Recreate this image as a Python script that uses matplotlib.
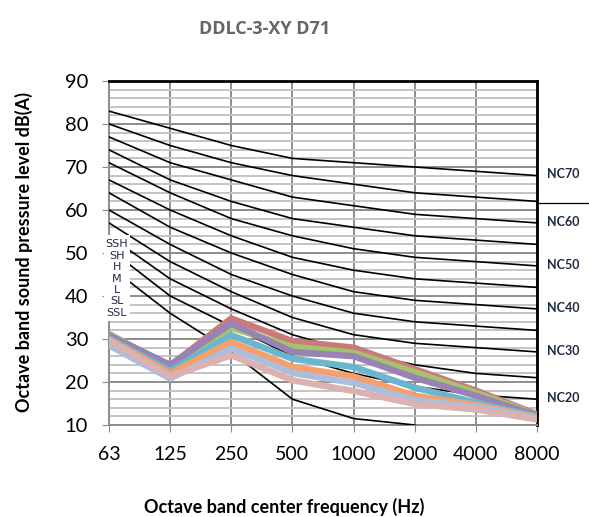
"""
DDLC-3-XY D71 噪声曲线图（NC曲线 + 各档位倍频程声压级）
"""
import numpy as np
import matplotlib.pyplot as plt
from matplotlib.patches import Rectangle

plt.rcParams['font.family'] = ['Lato', 'DejaVu Sans']

# 倍频程中心频率
freqs = ['63', '125', '250', '500', '1000', '2000', '4000', '8000']

# NC曲线（从低到高）
nc15 = [47, 36, 27, 16, 11.5, 10, np.nan, np.nan]
nc20 = [51, 40, 33, 26, 22, 19, 17, 16]
nc25 = [54, 44, 37, 31, 27, 24, 22, 21]
nc30 = [57, 48, 41, 35, 31, 29, 28, 27]
nc35 = [60, 52, 45, 40, 36, 34, 33, 32]
nc40 = [64, 56, 50, 45, 41, 39, 38, 37]
nc45 = [67, 60, 54, 49, 46, 44, 43, 42]
nc50 = [71, 64, 58, 54, 51, 49, 48, 47]
nc55 = [74, 67, 62, 58, 56, 54, 53, 52]
nc60 = [77, 71, 67, 63, 61, 59, 58, 57]
nc65 = [80, 75, 71, 68, 66, 64, 63, 62]
nc70 = [83, 79, 75, 72, 71, 70, 69, 68]
nc_curves = [nc15, nc20, nc25, nc30, nc35, nc40, nc45, nc50, nc55, nc60, nc65, nc70]

# 右侧标注的NC曲线
nc_label_names = ['NC20', 'NC30', 'NC40', 'NC50', 'NC60', 'NC70']
nc_label_curves = [nc20, nc30, nc40, nc50, nc60, nc70]
nc_divider = 61.6  # 右侧伸出的分隔线

# 各档位声压级
speed_names = ['SSH', 'SH', 'H', 'M', 'L', 'SL', 'SSL']
ssh = [31.0, 23.8, 34.8, 29.5, 28.0, 23.0, 18.0, 12.5]
sh = [31.2, 23.5, 32.6, 28.2, 26.8, 22.3, 17.5, 12.3]
h = [30.8, 24.0, 33.6, 27.0, 26.0, 21.0, 16.8, 12.2]
m = [30.2, 22.6, 30.9, 25.4, 23.5, 18.7, 15.2, 12.0]
l = [29.9, 22.0, 29.3, 23.5, 21.3, 16.8, 14.7, 11.8]
sl = [28.5, 20.8, 27.8, 22.1, 19.8, 15.8, 14.2, 11.6]
ssl = [29.7, 21.3, 26.2, 20.4, 17.9, 14.9, 13.6, 11.3]
speed_values = [ssh, sh, h, m, l, sl, ssl]
speed_colors = ['#C97B7B', '#A4C36B', '#9983B4', '#6AB6CF', '#F5A06C', '#ABBEDC', '#DCB1B2']


def main():
    fig = plt.figure(figsize=(5.89, 5.17), dpi=100)
    ax = fig.add_axes([109 / 589, 1 - 425 / 517, 428 / 589, 344 / 517])

    x = np.arange(len(freqs))

    # 网格
    ax.set_xlim(0, len(freqs) - 1)
    ax.set_ylim(10, 90)
    ax.set_xticks(x)
    ax.set_xticklabels(freqs, fontsize=14)
    ax.set_yticks(range(10, 91, 10))
    ax.set_yticks(range(10, 91, 2), minor=True)
    ax.tick_params(axis='y', which='major', labelsize=14.5, length=5, color='#8c8c8c', pad=10)
    ax.tick_params(axis='y', which='minor', length=0)
    ax.tick_params(axis='x', length=5, color='#8c8c8c', pad=10)
    ax.grid(which='minor', axis='y', color='#c4c4c4', linewidth=1.4)
    ax.grid(which='major', axis='y', color='#8c8c8c', linewidth=1.4)
    ax.grid(which='major', axis='x', color='#8c8c8c', linewidth=1.4)
    ax.set_axisbelow(True)

    for side in ['left', 'bottom']:
        ax.spines[side].set_color('#8c8c8c')
        ax.spines[side].set_linewidth(1.4)
    for side in ['top', 'right']:
        ax.spines[side].set_color('black')
        ax.spines[side].set_linewidth(2)

    # NC曲线
    for curve in nc_curves:
        ax.plot(x, curve, color='black', linewidth=1.2, zorder=3)

    # 各档位曲线
    for vals, color in zip(speed_values, speed_colors):
        ax.plot(x, vals, color=color, linewidth=4.6, solid_joinstyle='miter', zorder=4)

    # 右侧NC标注
    for name, curve in zip(nc_label_names, nc_label_curves):
        ax.annotate(name, xy=(x[-1], curve[-1]), xytext=(7, 1), textcoords='offset points',
                    fontsize=9, fontweight='bold', color='#1f2a44', va='center', ha='left',
                    annotation_clip=False)
    ax.plot([x[-1], x[-1] + 0.9], [nc_divider, nc_divider], color='black', linewidth=0.9,
            clip_on=False, zorder=5)

    # 左侧档位标签（白底遮挡）
    ax.add_patch(Rectangle((-0.08, 34.3), 0.43, 19.8, facecolor='white', edgecolor='none',
                           clip_on=False, zorder=6))
    for i, name in enumerate(speed_names):
        ax.text(0.13, 52.0 - i * 2.65, name, fontsize=8, color='#1f2a44', ha='center',
                va='center', zorder=7, family=['Liberation Sans Narrow', 'DejaVu Sans'])

    fig.text(265 / 589, 1 - 29 / 517, 'DDLC-3-XY D71', fontsize=13, fontweight='bold',
             color='#666666', ha='center', va='center', family=['Open Sans', 'DejaVu Sans'])
    fig.text(24 / 589, 1 - 252 / 517, 'Octave band sound pressure level dB(A)', fontsize=13,
             fontweight='bold', rotation=90, ha='center', va='center')
    fig.text(284 / 589, 1 - 507 / 517, 'Octave band center frequency (Hz)', fontsize=13,
             fontweight='bold', ha='center', va='center')

    plt.savefig('out.png', dpi=100)
    plt.close()


if __name__ == '__main__':
    main()
